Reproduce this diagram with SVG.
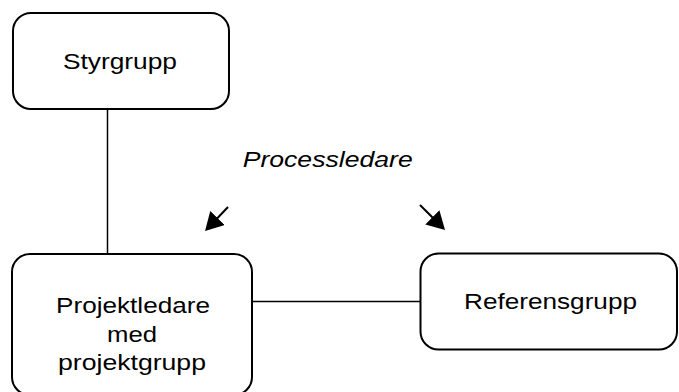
<svg xmlns="http://www.w3.org/2000/svg" width="679" height="392" viewBox="0 0 679 392">
  <style>
    .box { fill: #ffffff; stroke: #000000; stroke-width: 2; }
    .line { fill: none; stroke: #000000; stroke-width: 1.5; }
    .arrow { fill: none; stroke: #000000; stroke-width: 2; marker-end: url(#head); }
    .lbl { font-family: "Liberation Sans", Arial, sans-serif; font-size: 22px; fill: #000000; text-anchor: middle; }
    .it { font-style: italic; }
  </style>
  <defs>
    <marker id="head" markerUnits="userSpaceOnUse" markerWidth="18" markerHeight="20" refX="12" refY="10" orient="auto" viewBox="0 0 18 20">
      <path d="M0,0 L18,10 L0,20 z" fill="#000000"/>
    </marker>
  </defs>
  <rect width="679" height="392" fill="#ffffff"/>
  <g id="connectors">
    <line class="line" x1="107.5" y1="109" x2="107.5" y2="254"/>
    <line class="line" x1="252" y1="301.5" x2="420.5" y2="301.5"/>
    <line class="arrow" x1="228" y1="207" x2="209.2" y2="226.7"/>
    <line class="arrow" x1="420" y1="205" x2="440.8" y2="225.8"/>
  </g>
  <g id="styrgrupp">
    <rect class="box" x="13" y="13" width="216" height="96" rx="18" ry="18"/>
    <text class="lbl" x="120" y="69" textLength="114" lengthAdjust="spacingAndGlyphs">Styrgrupp</text>
  </g>
  <g id="projektledare">
    <rect class="box" x="12" y="254" width="240" height="141" rx="18" ry="18"/>
    <text class="lbl" x="133" y="313" textLength="154" lengthAdjust="spacingAndGlyphs">Projektledare</text>
    <text class="lbl" x="132" y="342" textLength="50" lengthAdjust="spacingAndGlyphs">med</text>
    <text class="lbl" x="132" y="370" textLength="148" lengthAdjust="spacingAndGlyphs">projektgrupp</text>
  </g>
  <g id="referensgrupp">
    <rect class="box" x="420.5" y="253.5" width="256.5" height="96" rx="18" ry="18"/>
    <text class="lbl" x="550.5" y="309" textLength="173" lengthAdjust="spacingAndGlyphs">Referensgrupp</text>
  </g>
  <g id="processledare">
    <text class="lbl it" x="327.7" y="167" textLength="170" lengthAdjust="spacingAndGlyphs">Processledare</text>
  </g>
</svg>
